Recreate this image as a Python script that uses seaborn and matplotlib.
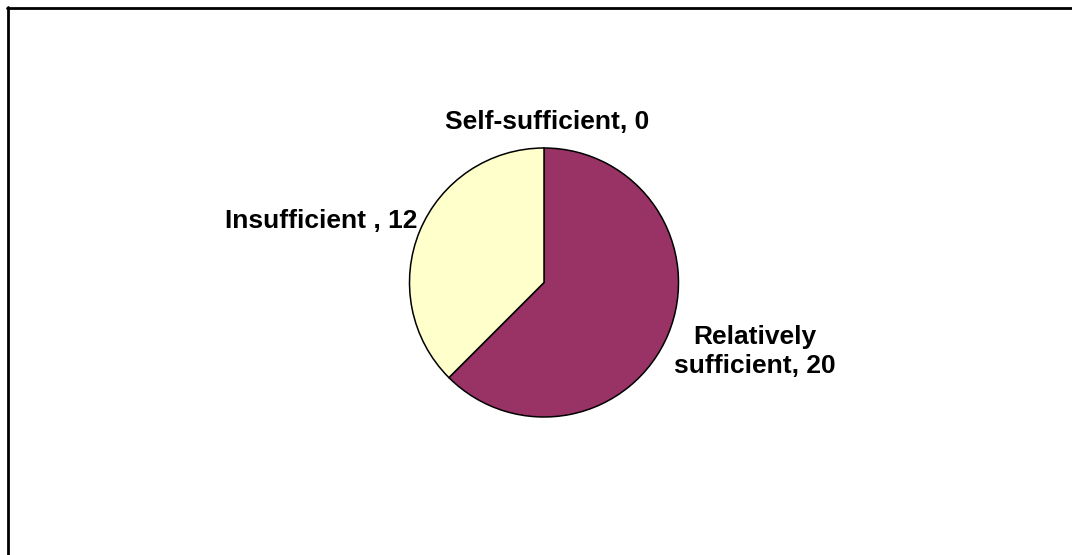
import matplotlib
matplotlib.use("Agg")
import matplotlib.pyplot as plt
from matplotlib.lines import Line2D
import seaborn as sns

# Resource sufficiency counts
categories = ["Self-sufficient", "Relatively sufficient", "Insufficient"]
values = [0, 20, 12]
label_texts = ["Self-sufficient, 0", "Relatively\nsufficient, 20", "Insufficient , 12"]
colors = ["#FFFFCC", "#993366", "#FFFFCC"]

sns.set_theme(style="white")
plt.rcParams["font.family"] = ["Liberation Sans", "DejaVu Sans"]

W, H = 1072, 555
fig = plt.figure(figsize=(W / 100, H / 100), dpi=100)
fig.patch.set_facecolor("white")

# Pie axes: square box centred on the pie
cx, cy, r = 544, 282.5, 134.5
ax = fig.add_axes([(cx - r) / W, (H - cy - r) / H, 2 * r / W, 2 * r / H])
ax.pie(values, colors=colors, startangle=90, counterclock=False,
       wedgeprops=dict(edgecolor="black", linewidth=1.1))
ax.set_xlim(-1, 1)
ax.set_ylim(-1, 1)
ax.set_aspect("auto")
ax.axis("off")

font = dict(fontsize=19, fontweight="bold", color="black", clip_on=False)
ax.text(0.02, 1.19, label_texts[0], ha="center", va="center", **font)
ax.text(1.57, -0.515, label_texts[1], ha="center", va="center",
        linespacing=1.25, **font)
ax.text(-0.94, 0.46, label_texts[2], ha="right", va="center", **font)

# Chart-area border (top and left edges)
fig.add_artist(Line2D([7 / W, 1], [1 - 7.5 / H, 1 - 7.5 / H],
                      transform=fig.transFigure, color="black", linewidth=2))
fig.add_artist(Line2D([7.5 / W, 7.5 / W], [0, 1 - 6.5 / H],
                      transform=fig.transFigure, color="black", linewidth=2))

fig.savefig("out.png", dpi=100, facecolor="white")
